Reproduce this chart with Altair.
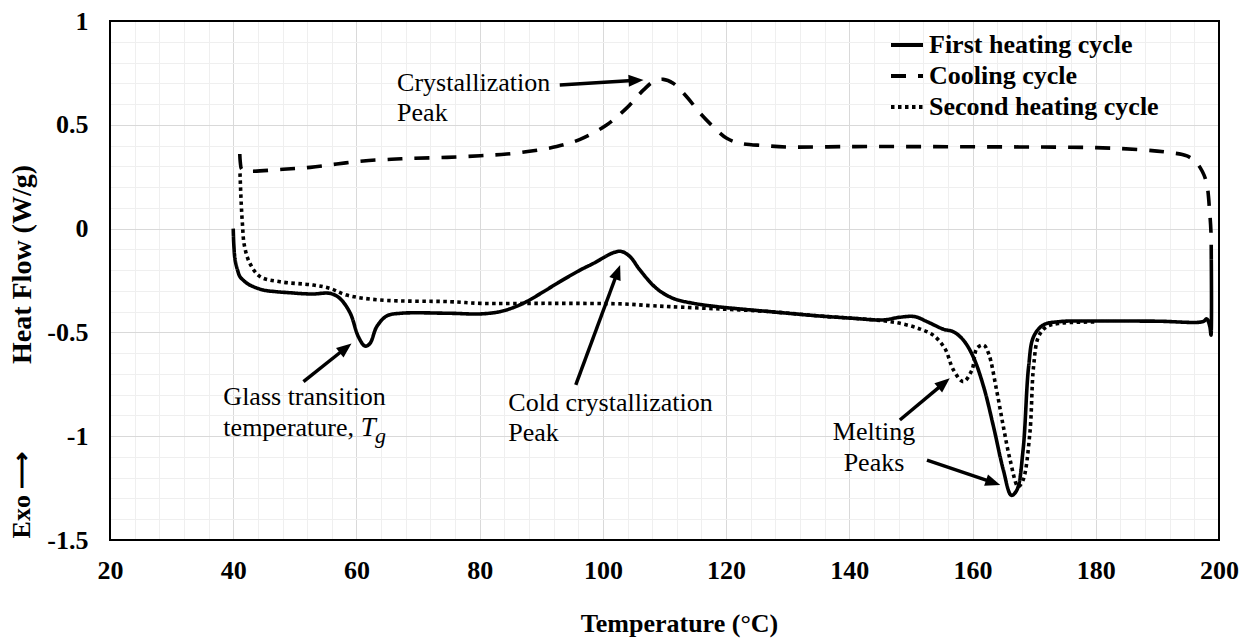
import math
import numpy as np
import pandas as pd
import altair as alt

# ---------------- data ----------------
cycle_names = ["First heating cycle", "Cooling cycle", "Second heating cycle"]

heat1_T = [40.0, 40.1, 40.3, 40.7, 41.1, 42.0, 42.7, 44.9, 47.0, 49.2, 51.0, 53.0, 55.7, 57.3, 59.0,
           60.3, 61.4, 62.2, 63.3, 64.9, 67.1, 75.2, 80.1, 83.3, 85.5, 87.6, 90.3, 93.0, 96.3, 98.5,
           101.7, 103.0, 104.4, 106.0, 108.7, 111.4, 114.7, 118.5, 120.1, 127.1, 135.2, 140.6, 145.5,
           148.2, 150.6, 152.6, 155.3, 156.9, 158.5, 160.1, 161.8, 163.4, 165.0, 166.3, 167.2, 168.2,
           169.1, 169.9, 171.5, 174.2, 180.0, 190.0, 197.4, 198.0, 198.5, 198.7, 198.75]
heat1_HF = [0.0, -0.08, -0.15, -0.2, -0.232, -0.258, -0.272, -0.296, -0.304, -0.309, -0.313, -0.315,
            -0.312, -0.336, -0.408, -0.52, -0.566, -0.553, -0.472, -0.421, -0.408, -0.408, -0.411,
            -0.40, -0.38, -0.352, -0.305, -0.256, -0.2, -0.167, -0.116, -0.110, -0.135, -0.199, -0.288,
            -0.336, -0.36, -0.376, -0.381, -0.40, -0.421, -0.432, -0.44, -0.427, -0.424, -0.448, -0.485,
            -0.497, -0.537, -0.617, -0.762, -0.954, -1.163, -1.285, -1.259, -1.066, -0.665, -0.521,
            -0.464, -0.448, -0.445, -0.446, -0.448, -0.435, -0.47, -0.513, -0.15]

cool_T = [198.75, 198.7, 198.5, 198.0, 197.3, 196.4, 194.8, 191.5, 187.7, 180.0, 170.0, 160.0, 150.0,
          140.0, 130.0, 126.1, 122.3, 120.1, 117.9, 115.8, 113.6, 111.4, 109.8, 108.2, 106.6, 103.8,
          100.6, 96.3, 92.5, 88.7, 84.4, 80.1, 74.7, 69.2, 65.7, 61.1, 56.8, 52.5, 48.1, 42.4, 41.4,
          41.15, 41.05]
cool_HF = [-0.15, -0.02, 0.074, 0.218, 0.275, 0.315, 0.35, 0.368, 0.379, 0.39, 0.393, 0.394, 0.395,
           0.395, 0.393, 0.40, 0.411, 0.435, 0.491, 0.555, 0.635, 0.70, 0.719, 0.708, 0.668, 0.579,
           0.499, 0.43, 0.395, 0.375, 0.359, 0.351, 0.343, 0.339, 0.334, 0.326, 0.311, 0.295, 0.286,
           0.277, 0.285, 0.32, 0.37]

heat2_T = [41.1, 41.3, 41.5, 41.8, 42.7, 44.4, 47.6, 53.0, 55.7, 58.4, 63.8, 75.2, 80.1, 91.4, 103.3,
           107.6, 110.9, 119.0, 127.1, 135.2, 145.5, 148.8, 151.5, 153.6, 155.5, 156.9, 158.5, 159.9,
           160.7, 161.8, 162.6, 163.9, 165.0, 166.1, 167.4, 168.2, 169.3, 169.9, 170.7, 172.0, 174.2, 180.0]
heat2_HF = [0.266, 0.12, 0.02, -0.08, -0.167, -0.232, -0.256, -0.272, -0.288, -0.32, -0.344, -0.352,
            -0.36, -0.36, -0.363, -0.371, -0.376, -0.387, -0.40, -0.421, -0.444, -0.46, -0.484, -0.513,
            -0.577, -0.681, -0.737, -0.681, -0.577, -0.561, -0.601, -0.778, -0.954, -1.115, -1.243,
            -1.211, -0.986, -0.665, -0.521, -0.473, -0.456, -0.45]

# tick values
x_ticks = list(range(20, 201, 4))
y_ticks = [round(-1.5 + 0.1 * i, 1) for i in range(26)]

# annotations
ann_left_text = ["Crystallization", "Peak", "Glass transition", "temperature,", "Cold crystallization", "Peak"]
ann_left_T = [66.6, 66.6, 38.4, 38.4, 84.65, 84.65]
ann_left_HF = [0.70, 0.555, -0.81, -0.96, -0.842, -0.986]

ann_center_text = ["Melting", "Peaks"]
ann_center_T = [144.0, 144.0]
ann_center_HF = [-0.978, -1.131]

arrow_T0 = [93.0, 51.4, 95.6, 148.2, 152.6]
arrow_HF0 = [0.692, -0.737, -0.753, -0.922, -1.115]
arrow_T1 = [106.6, 59.2, 102.8, 156.3, 164.5]
arrow_HF1 = [0.716, -0.553, -0.175, -0.721, -1.235]

# ---------------- layout ----------------
W, H = 1109, 519
XD = [20, 200]
YD = [-1.5, 1.0]
FONT = "Liberation Serif"
MAJOR = "#d9d9d9"
MINOR = "#efefef"

sx = W / (XD[1] - XD[0])
sy = H / (YD[1] - YD[0])

for a, b in [(heat1_T, heat1_HF), (cool_T, cool_HF), (heat2_T, heat2_HF)]:
    assert len(a) == len(b)

rows = []
for name, ts, hs in zip(cycle_names, [heat1_T, cool_T, heat2_T], [heat1_HF, cool_HF, heat2_HF]):
    for i, (t, h) in enumerate(zip(ts, hs)):
        rows.append({"cycle": name, "T": t, "HF": h, "i": i})
df_lines = pd.DataFrame(rows)

# arrows: shaft end and head angle in screen space
HEAD = 15.0
arr_rows = []
for t0, h0, t1, h1 in zip(arrow_T0, arrow_HF0, arrow_T1, arrow_HF1):
    dxp = (t1 - t0) * sx
    dyp = -(h1 - h0) * sy
    L = math.hypot(dxp, dyp)
    ux, uy = dxp / L, dyp / L
    ang = math.degrees(math.atan2(ux, -uy)) % 360
    back = HEAD - 4
    arr_rows.append({"T": t0, "HF": h0, "T2": t1 - back * ux / sx, "HF2": h1 + back * uy / sy,
                     "Th": t1, "HFh": h1, "ang": ang})
df_arr = pd.DataFrame(arr_rows)

xscale = alt.Scale(domain=XD, nice=False, zero=False)
yscale = alt.Scale(domain=YD, nice=False, zero=False)

x_major = "datum.value % 20 === 0"
y_major = "abs(datum.value * 2 - round(datum.value * 2)) < 0.001"

xaxis = alt.Axis(
    values=x_ticks, grid=True, gridWidth=1,
    gridColor={"condition": {"test": x_major, "value": MAJOR}, "value": MINOR},
    ticks=False, domain=False,
    labelExpr=f"{x_major} ? datum.label : ''",
    labelFont=FONT, labelFontSize=26, labelFontWeight="bold", labelColor="black",
    labelBaseline="middle", labelPadding=30, labelOverlap=False, labelFlush=False,
    title="Temperature (°C)", titleFont=FONT, titleFontSize=26, titleFontWeight="bold",
    titleColor="black", titleX=569, titleY=83, titleBaseline="middle", titleAlign="center",
)
yaxis = alt.Axis(
    values=y_ticks, grid=True, gridWidth=1,
    gridColor={"condition": {"test": y_major, "value": MAJOR}, "value": MINOR},
    ticks=False, domain=False,
    labelExpr=f"{y_major} ? '' + round(datum.value * 10) / 10 : ''",
    labelFont=FONT, labelFontSize=26, labelFontWeight="bold", labelColor="black",
    labelAlign="right", labelBaseline="middle", labelPadding=22, labelOverlap=False,
    labelFlush=False,
    title="Heat Flow (W/g)", titleFont=FONT, titleFontSize=28, titleFontWeight="bold",
    titleColor="black", titleX=-88, titleY=243, titleBaseline="middle", titleAlign="center",
    titleAngle=270,
)


def X(field="T"):
    return alt.X(f"{field}:Q", scale=xscale, axis=xaxis)


def Y(field="HF"):
    return alt.Y(f"{field}:Q", scale=yscale, axis=yaxis)


lines = alt.Chart(df_lines).mark_line(
    color="black", strokeWidth=3.6, interpolate="catmull-rom", strokeJoin="round"
).encode(
    x=X(), y=Y(),
    strokeDash=alt.StrokeDash(
        "cycle:N",
        scale=alt.Scale(domain=cycle_names, range=[[1, 0], [15, 12], [3.5, 3.5]]),
        legend=alt.Legend(
            title=None, orient="none", legendX=779, legendY=6, padding=0,
            symbolType="stroke", symbolSize=1024, symbolStrokeWidth=4,
            symbolStrokeColor="black", labelFont=FONT, labelFontSize=26,
            labelFontWeight="bold", labelColor="black", labelOffset=4, rowPadding=0,
            labelLimit=400,
        ),
    ),
    order="i:Q",
)

df_left = pd.DataFrame({"T": ann_left_T, "HF": ann_left_HF, "txt": ann_left_text})
text_left = alt.Chart(df_left).mark_text(
    align="left", baseline="middle", font=FONT, fontSize=26, color="black"
).encode(x=X(), y=Y(), text="txt:N")

df_center = pd.DataFrame({"T": ann_center_T, "HF": ann_center_HF, "txt": ann_center_text})
text_center = alt.Chart(df_center).mark_text(
    align="center", baseline="middle", font=FONT, fontSize=26, color="black"
).encode(x=X(), y=Y(), text="txt:N")

tg_T = pd.DataFrame({"T": [60.7], "HF": [-0.96], "txt": ["T"]})
tg_g = pd.DataFrame({"T": [63.0], "HF": [-1.0], "txt": ["g"]})
text_T = alt.Chart(tg_T).mark_text(
    align="left", baseline="middle", font=FONT, fontSize=27, fontStyle="italic", color="black"
).encode(x=X(), y=Y(), text="txt:N")
text_g = alt.Chart(tg_g).mark_text(
    align="left", baseline="middle", font=FONT, fontSize=22, fontStyle="italic", color="black"
).encode(x=X(), y=Y(), text="txt:N")

shafts = alt.Chart(df_arr).mark_rule(color="black", strokeWidth=3.5).encode(
    x=X("T"), y=Y("HF"), x2="T2:Q", y2="HF2:Q"
)
heads = alt.Chart(df_arr).mark_point(
    shape="M0,0 L0.4,1 L-0.4,1 Z", filled=True, size=(2 * HEAD) ** 2, color="black", opacity=1,
    strokeWidth=0,
).encode(x=X("Th"), y=Y("HFh"), angle=alt.Angle("ang:Q", scale=None))

exo = alt.Chart(pd.DataFrame({"txt": ["Exo \u27f6"]})).mark_text(
    angle=270, align="center", baseline="middle", font=FONT, fontSize=26,
    fontWeight="bold", color="black"
).encode(x=alt.value(-88), y=alt.value(474), text="txt:N")

frame = alt.Chart(pd.DataFrame({"a": [0]})).mark_rect(
    filled=False, stroke="black", strokeWidth=2
).encode(x=alt.value(0), x2=alt.value(W), y=alt.value(0), y2=alt.value(H))

chart = alt.layer(
    lines, shafts, heads, text_left, text_center, text_T, text_g, exo, frame
).properties(
    width=W, height=H,
    autosize=alt.AutoSizeParams(type="none"),
    padding={"left": 110, "top": 21, "right": 31, "bottom": 98},
    background="white",
).configure_view(stroke=None)

chart.save("out.html", embed_options={"renderer": "svg", "actions": False})
